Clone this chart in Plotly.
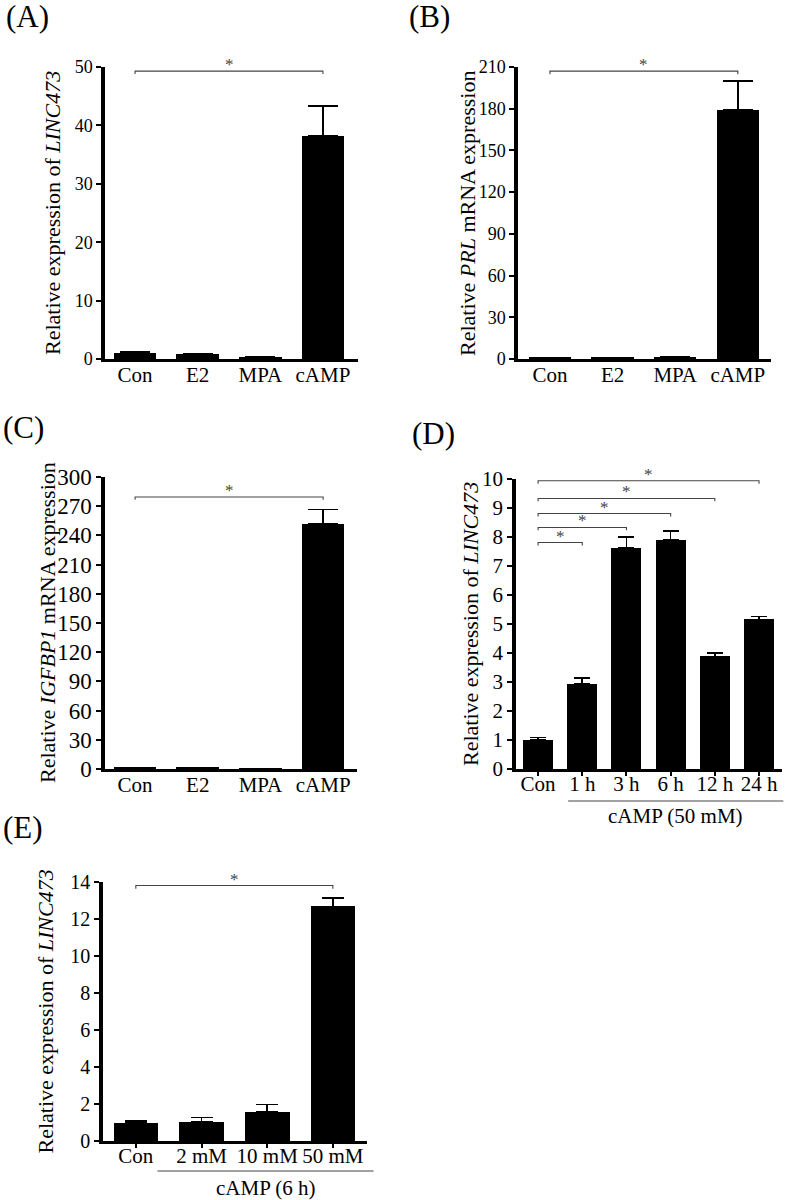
import plotly.graph_objects as go

# ---------------- data ----------------
cats_abc = ["Con", "E2", "MPA", "cAMP"]
a_vals = [1.1, 0.8, 0.3, 38.2]
a_err = [0.1, 0.1, 0.05, 5.1]
b_vals = [1.0, 0.8, 1.3, 179.0]
b_err = [0.2, 0.1, 0.2, 21.0]
c_vals = [1.5, 1.2, 0.4, 252.0]
c_err = [0.2, 0.1, 0.1, 14.5]
d_cats = ["Con", "1 h", "3 h", "6 h", "12 h", "24 h"]
d_vals = [1.0, 2.93, 7.63, 7.9, 3.88, 5.16]
d_err = [0.08, 0.21, 0.37, 0.3, 0.11, 0.1]
e_cats = ["Con", "2 mM", "10 mM", "50 mM"]
e_vals = [0.99, 1.04, 1.58, 12.68]
e_err = [0.09, 0.24, 0.4, 0.45]

# significance brackets: (from index, to index, height, end drop)
a_sig = [(0, 3, 49.3, 0.5)]
b_sig = [(0, 3, 207.0, 2.2)]
c_sig = [(0, 3, 279.5, 3.0)]
d_sig = [(0, 1, 7.81, 0.1), (0, 2, 8.33, 0.1), (0, 3, 8.81, 0.1),
         (0, 4, 9.33, 0.1), (0, 5, 9.94, 0.1)]
e_sig = [(0, 3, 13.81, 0.17)]

# ---------------- layout helpers ----------------
W, H = 787, 1200
FONT = "Liberation Serif"


def fx(p):
    return p / W


def fy(p):
    return 1 - p / H


panels = [
    dict(name="A", cats=cats_abc, vals=a_vals, err=a_err, sig=a_sig,
         xdom=(105, 358), ydom=(67, 359), xr=(-0.48, 3.56), yr=(0, 50), dtick=10,
         ytfs=18, cap=15, xticks=False, xstand=-5,
         title="Relative expression of <i>LINC473</i>", tx=52,
         letter="(A)", lx=4, ly=17),
    dict(name="B", cats=cats_abc, vals=b_vals, err=b_err, sig=b_sig,
         xdom=(518, 771), ydom=(67, 359), xr=(-0.51, 3.53), yr=(0, 210), dtick=30,
         ytfs=18, cap=15, xticks=False, xstand=-5,
         title="Relative <i>PRL</i> mRNA expression", tx=467,
         letter="(B)", lx=407, ly=17),
    dict(name="C", cats=cats_abc, vals=c_vals, err=c_err, sig=c_sig,
         xdom=(105, 357), ydom=(477, 769), xr=(-0.48, 3.54), yr=(0, 300), dtick=30,
         ytfs=23, cap=15, xticks=False, xstand=-5,
         title="Relative <i>IGFBP1</i> mRNA expression", tx=47,
         letter="(C)", lx=1, ly=427),
    dict(name="D", cats=d_cats, vals=d_vals, err=d_err, sig=d_sig,
         xdom=(516, 782), ydom=(479, 769), xr=(-0.5, 5.52), yr=(0, 10), dtick=1,
         ytfs=21, cap=8, xticks=True, xstand=-10,
         title="Relative expression of <i>LINC473</i>", tx=470,
         letter="(D)", lx=410, ly=433),
    dict(name="E", cats=e_cats, vals=e_vals, err=e_err, sig=e_sig,
         xdom=(103, 367), ydom=(882, 1141), xr=(-0.5, 3.52), yr=(0, 14), dtick=2,
         ytfs=20, cap=11, xticks=True, xstand=-10,
         title="Relative expression of <i>LINC473</i>", tx=45,
         letter="(E)", lx=1, ly=827),
]

fig = go.Figure()
annotations = []
shapes = []
layout_axes = {}

for k, p in enumerate(panels, start=1):
    xa = "x" if k == 1 else f"x{k}"
    ya = "y" if k == 1 else f"y{k}"
    n = len(p["cats"])
    idx = list(range(n))
    fig.add_trace(go.Bar(
        x=idx, y=p["vals"], xaxis=xa, yaxis=ya, width=0.68,
        marker=dict(color="black", line=dict(width=0)),
        error_y=dict(type="data", symmetric=False, array=p["err"],
                     arrayminus=[0] * n, color="black", thickness=1.6,
                     width=p["cap"]),
        showlegend=False, hoverinfo="skip"))
    # significance brackets
    for (i, j, h, d) in p["sig"]:
        fig.add_trace(go.Scatter(
            x=[i, i, j, j], y=[h - d, h, h, h - d], xaxis=xa, yaxis=ya,
            mode="lines", line=dict(color="#444444", width=1.1),
            showlegend=False, hoverinfo="skip", cliponaxis=False))
        annotations.append(dict(
            x=(i + j) / 2, y=h, xref=xa, yref=ya, text="*", showarrow=False,
            yanchor="bottom", yshift=-5,
            font=dict(family=FONT, size=17, color="#444444")))

    xkey = "xaxis" if k == 1 else f"xaxis{k}"
    ykey = "yaxis" if k == 1 else f"yaxis{k}"
    layout_axes[xkey] = dict(
        domain=[fx(p["xdom"][0]), fx(p["xdom"][1])], anchor=ya,
        range=list(p["xr"]), tickmode="array", tickvals=idx,
        ticktext=p["cats"], showline=True, linecolor="black", linewidth=3,
        ticks="outside" if p["xticks"] else "", ticklen=4, tickwidth=1.5,
        tickcolor="black", showgrid=False, zeroline=False, automargin=False,
        ticklabelstandoff=p["xstand"],
        tickfont=dict(family=FONT, size=21, color="black"), fixedrange=True)
    layout_axes[ykey] = dict(
        domain=[fy(p["ydom"][1]), fy(p["ydom"][0])], anchor=xa,
        range=list(p["yr"]), dtick=p["dtick"], tick0=0,
        showline=True, linecolor="black", linewidth=3.5, ticks="outside",
        ticklen=5, tickwidth=2, tickcolor="black", showgrid=False,
        zeroline=False, automargin=False,
        tickfont=dict(family=FONT, size=p["ytfs"], color="black"),
        fixedrange=True)

    # axis title
    annotations.append(dict(
        x=fx(p["tx"]), y=fy((p["ydom"][0] + p["ydom"][1]) / 2), xref="paper",
        yref="paper", text=p["title"], textangle=-90, showarrow=False,
        xanchor="center", yanchor="middle",
        font=dict(family=FONT, size=22, color="black")))
    # panel letter
    annotations.append(dict(
        x=fx(p["lx"]), y=fy(p["ly"]), xref="paper", yref="paper",
        text=p["letter"], showarrow=False, xanchor="left", yanchor="middle",
        font=dict(family=FONT, size=31, color="black")))


def cat_to_px(p, v):
    x0, x1 = p["xdom"]
    r0, r1 = p["xr"]
    return x0 + (v - r0) / (r1 - r0) * (x1 - x0)


# group underline + label for D and E
groups = [
    dict(panel=panels[3], start=0.68, end=5.55, yline=801, label="cAMP (50 mM)",
         ylab=816),
    dict(panel=panels[4], start=0.33, end=3.62, yline=1171, label="cAMP (6 h)",
         ylab=1188),
]
for g in groups:
    p = g["panel"]
    xs = cat_to_px(p, g["start"])
    xe = min(cat_to_px(p, g["end"]), W)
    shapes.append(dict(type="line", xref="paper", yref="paper",
                       x0=fx(xs), x1=fx(xe), y0=fy(g["yline"]), y1=fy(g["yline"]),
                       line=dict(color="#444444", width=1.1)))
    annotations.append(dict(
        x=fx((xs + xe) / 2), y=fy(g["ylab"]), xref="paper", yref="paper",
        text=g["label"], showarrow=False, xanchor="center", yanchor="middle",
        font=dict(family=FONT, size=21, color="black")))

fig.update_layout(
    template="none",
    width=W, height=H, margin=dict(l=0, r=0, t=0, b=0, autoexpand=False),
    paper_bgcolor="white", plot_bgcolor="white",
    annotations=annotations, shapes=shapes, bargap=0,
    font=dict(family=FONT, color="black"),
    **layout_axes)

fig.write_html(
    "out.html",
    config={"displayModeBar": False},
    post_script="document.body.style.margin='0px';document.body.style.overflow='hidden';")
